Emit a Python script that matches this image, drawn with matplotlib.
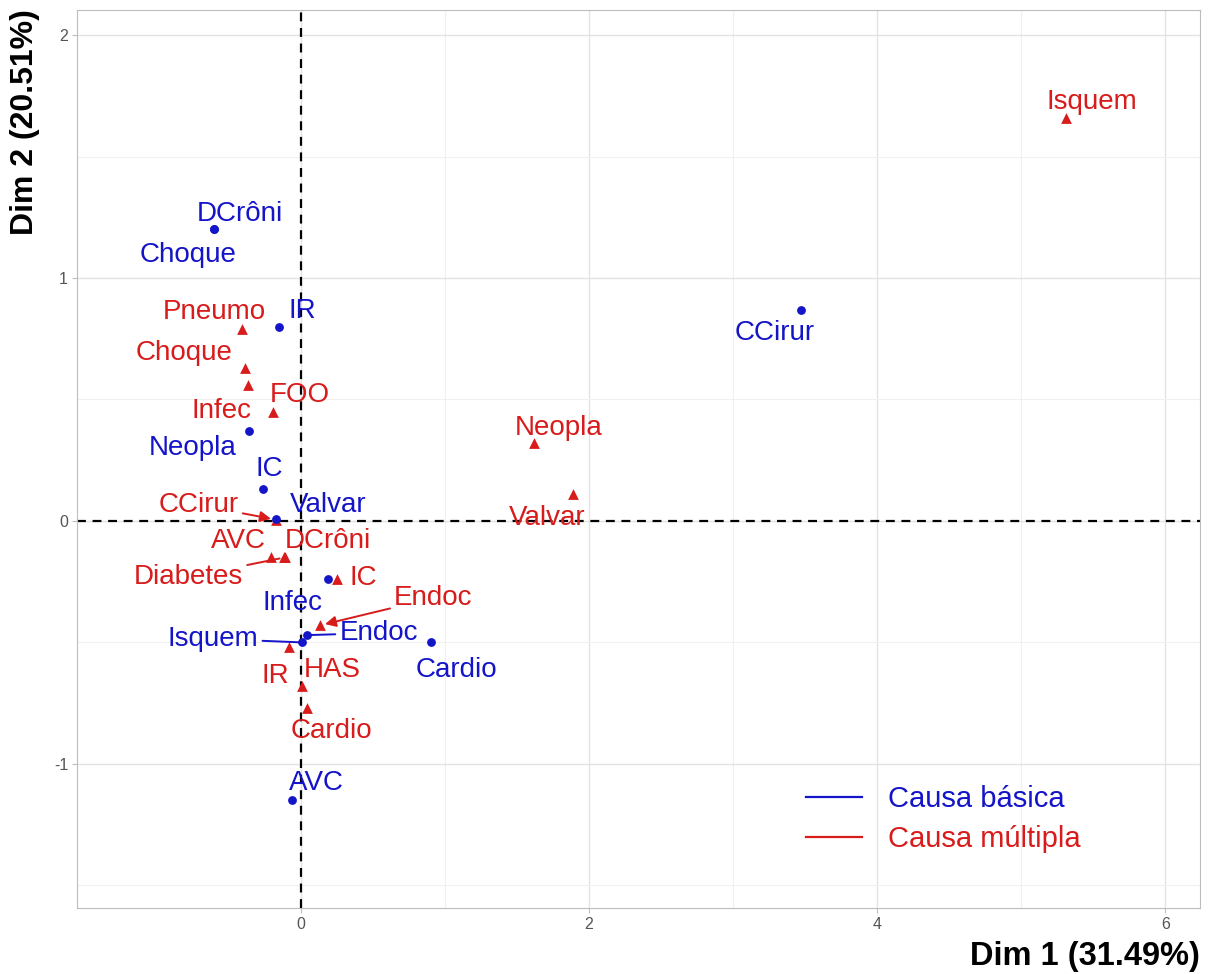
import numpy as np
import matplotlib
matplotlib.use("Agg")
import matplotlib.pyplot as plt
from matplotlib import font_manager
from matplotlib.lines import Line2D

plt.rcParams['font.family'] = ['Liberation Sans', 'DejaVu Sans']
plt.rcParams['axes.unicode_minus'] = False

# Causa básica (blue points)
basica_labels = ["DCrôni", "Choque", "IR", "Neopla", "IC", "Valvar", "Infec",
                 "Isquem", "Endoc", "Cardio", "AVC", "CCirur"]
basica_x = [-0.60, -0.60, -0.15, -0.36, -0.26, -0.17, 0.19, 0.01, 0.04, 0.90, -0.06, 3.47]
basica_y = [1.20, 1.20, 0.80, 0.37, 0.13, 0.01, -0.24, -0.50, -0.47, -0.50, -1.15, 0.87]
# repelled label positions (text centre x, baseline y)
basica_lx = [-0.42, -0.78, 0.01, -0.75, -0.22, 0.19, -0.06, -0.61, 0.54, 1.08, 0.11, 3.29]
basica_ly = [1.235, 1.066, 0.835, 0.272, 0.185, 0.037, -0.366, -0.514, -0.49, -0.642, -1.107, 0.745]
basica_seg = [False, False, False, False, False, False, False, True, True, False, False, False]

# Causa múltipla (red triangles)
multipla_labels = ["Isquem", "Pneumo", "Choque", "Infec", "FOO", "Neopla", "Valvar",
                   "CCirur", "AVC", "DCrôni", "Diabetes", "IC", "Endoc", "IR", "HAS", "Cardio"]
multipla_x = [5.31, -0.41, -0.39, -0.37, -0.19, 1.62, 1.89, -0.17, -0.21, -0.12,
              -0.11, 0.25, 0.13, -0.08, 0.01, 0.04]
multipla_y = [1.66, 0.79, 0.63, 0.56, 0.45, 0.32, 0.11, 0.005, -0.15, -0.15,
              -0.15, -0.24, -0.43, -0.52, -0.68, -0.77]
multipla_lx = [5.49, -0.60, -0.81, -0.55, -0.01, 1.79, 1.71, -0.71, -0.43, 0.19,
               -0.78, 0.43, 0.92, -0.18, 0.22, 0.21]
multipla_ly = [1.695, 0.831, 0.663, 0.424, 0.49, 0.354, -0.016, 0.037, -0.111, -0.111,
               -0.259, -0.263, -0.346, -0.667, -0.642, -0.893]
multipla_seg = ["", "", "", "", "", "", "", "arrow", "", "", "line", "", "arrow", "", "", ""]

blue = "#1414C8"
red = "#D81B1B"

fig = plt.figure(figsize=(12.14, 9.74), dpi=100)
ax = fig.add_axes([0.0635, 0.0678, 0.925, 0.9219])

ax.set_xlim(-1.553, 6.24)
ax.set_ylim(-1.593, 2.103)
ax.set_xticks([0, 2, 4, 6])
ax.set_xticks([1, 3, 5], minor=True)
ax.set_yticks([-1, 0, 1, 2])
ax.set_yticks([-1.5, -0.5, 0.5, 1.5], minor=True)
ax.grid(True, which='major', color='#E3E3E3', lw=1.0)
ax.grid(True, which='minor', color='#F0F0F0', lw=0.8)
ax.set_axisbelow(True)
for s in ax.spines.values():
    s.set_color('#BDBDBD')
ax.tick_params(which='major', length=3.5, width=0.8, color='#BDBDBD', pad=3,
               labelsize=11.5, labelcolor='#555555')
ax.tick_params(which='minor', length=0)

ax.axhline(0, color='black', ls=(0, (4, 3)), lw=1.6, zorder=1)
ax.axvline(0, color='black', ls=(0, (4, 3)), lw=1.6, zorder=1)

ax.scatter(multipla_x, multipla_y, s=60, color=red, marker='^', zorder=3, lw=0)
ax.scatter(basica_x, basica_y, s=40, color=blue, marker='o', zorder=3.5, lw=0)

fs = 20
for lab, x, y, lx, ly, seg in zip(basica_labels, basica_x, basica_y, basica_lx, basica_ly, basica_seg):
    if seg:
        ax.annotate(lab, xy=(x, y), xytext=(lx, ly), ha='center', va='baseline',
                    color=blue, fontsize=fs, zorder=4,
                    arrowprops=dict(arrowstyle='-', color=blue, lw=1.4, shrinkA=1, shrinkB=2))
    else:
        ax.text(lx, ly, lab, ha='center', va='baseline', color=blue, fontsize=fs, zorder=4)

for lab, x, y, lx, ly, seg in zip(multipla_labels, multipla_x, multipla_y, multipla_lx, multipla_ly, multipla_seg):
    if seg:
        style = '-|>' if seg == 'arrow' else '-'
        ax.annotate(lab, xy=(x, y), xytext=(lx, ly), ha='center', va='baseline',
                    color=red, fontsize=fs, zorder=4,
                    arrowprops=dict(arrowstyle=style, color=red, lw=1.4, shrinkA=1, shrinkB=4,
                                    mutation_scale=16))
    else:
        ax.text(lx, ly, lab, ha='center', va='baseline', color=red, fontsize=fs, zorder=4)

handles = [Line2D([], [], color=blue, lw=1.6), Line2D([], [], color=red, lw=1.6)]
leg = ax.legend(handles, ["Causa básica", "Causa múltipla"], loc='center left',
                bbox_to_anchor=(0.6495, 0.099), borderaxespad=0, borderpad=0, frameon=False,
                fontsize=21, handlelength=1.9, handletextpad=0.9, labelspacing=0.42)
for t, c in zip(leg.get_texts(), [blue, red]):
    t.set_color(c)

names = {f.name for f in font_manager.fontManager.ttflist}
ylab_family = ['Liberation Sans Narrow'] if 'Liberation Sans Narrow' in names else ['Liberation Sans']
ylab_size = 27 if 'Liberation Sans Narrow' in names else 23

fig.text(0.9885, 0.002, "Dim 1 (31.49%)", ha='right', va='bottom', fontsize=23.5, fontweight='bold')
fig.text(0.008, 0.9907, "Dim 2 (20.51%)", ha='left', va='top', rotation=90,
         fontsize=ylab_size, fontweight='bold', family=ylab_family)

fig.savefig("out.png", dpi=100)
